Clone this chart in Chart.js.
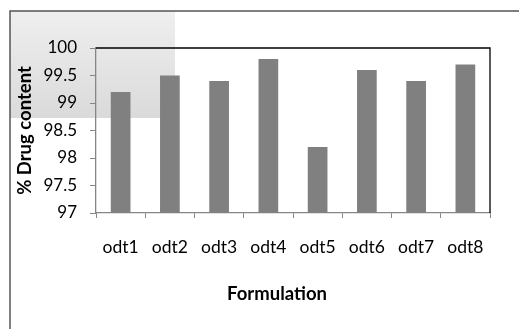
<!DOCTYPE html>
<html>
<head>
<meta charset="utf-8">
<script src="https://cdn.jsdelivr.net/npm/chart.js@4"></script>
<style>
  html, body { margin: 0; padding: 0; background: #ffffff; }
  #wrap { width: 519px; height: 329px; position: relative; }
</style>
</head>
<body>
<div id="wrap"><canvas id="c" width="519" height="329"></canvas></div>
<script>
const categories = ["odt1", "odt2", "odt3", "odt4", "odt5", "odt6", "odt7", "odt8"];
const drugContent = [99.2, 99.5, 99.4, 99.8, 98.2, 99.6, 99.4, 99.7];
const yMin = 97;
const yMax = 100;
const yStep = 0.5;
const xTitle = "Formulation";
const yTitle = "% Drug content";

const FONT = "Lato, 'Open Sans', sans-serif";

const decorPlugin = {
  id: 'decor',
  beforeDraw(chart) {
    const ctx = chart.ctx;
    ctx.save();
    const g = ctx.createLinearGradient(0, 11, 0, 118);
    g.addColorStop(0, '#efefef');
    g.addColorStop(1, '#dadada');
    ctx.fillStyle = g;
    ctx.fillRect(10, 11, 165, 107);
    ctx.restore();
  },
  afterDraw(chart) {
    const ctx = chart.ctx;
    const a = chart.chartArea;
    ctx.save();
    ctx.strokeStyle = '#000000';
    ctx.lineWidth = 1.3;
    ctx.beginPath();
    ctx.moveTo(a.left, a.top);
    ctx.lineTo(a.right, a.top);
    ctx.lineTo(a.right, a.bottom);
    ctx.stroke();
    ctx.strokeStyle = '#555555';
    ctx.lineWidth = 1.5;
    ctx.beginPath();
    ctx.moveTo(519, 11);
    ctx.lineTo(10, 11);
    ctx.lineTo(10, 329);
    ctx.stroke();
    ctx.fillStyle = '#000000';
    ctx.font = "bold 18.5px " + FONT;
    ctx.textAlign = 'center';
    ctx.textBaseline = 'middle';
    ctx.fillText(xTitle, 277, 294);
    ctx.restore();
  }
};

new Chart(document.getElementById('c'), {
  type: 'bar',
  data: {
    labels: categories,
    datasets: [{
      data: drugContent,
      backgroundColor: '#808080',
      borderWidth: 0,
      barPercentage: 0.4,
      categoryPercentage: 1.0
    }]
  },
  options: {
    responsive: false,
    animation: false,
    devicePixelRatio: 1,
    layout: { padding: { left: 10, right: 29, top: 48, bottom: 0 } },
    plugins: {
      legend: { display: false },
      tooltip: { enabled: false },
      title: { display: false }
    },
    scales: {
      x: {
        afterFit(scale) { scale.height = 116; },
        grid: {
          display: true,
          drawOnChartArea: false,
          drawTicks: true,
          tickLength: 5,
          color: '#868686',
          offset: true
        },
        border: { display: true, color: '#868686', width: 1.3 },
        ticks: {
          color: '#000000',
          font: { family: FONT, size: 17.5 },
          padding: 19,
          maxRotation: 0,
          autoSkip: false
        }
      },
      y: {
        min: yMin,
        max: yMax,
        afterFit(scale) { scale.width = 86; },
        grid: {
          display: true,
          drawOnChartArea: false,
          drawTicks: true,
          tickLength: 6,
          color: '#868686'
        },
        border: { display: true, color: '#868686', width: 1.3 },
        ticks: {
          stepSize: yStep,
          color: '#000000',
          font: { family: FONT, size: 17 },
          padding: 13,
          callback: (v) => String(Math.round(v * 10) / 10)
        },
        title: {
          display: true,
          text: yTitle,
          color: '#000000',
          font: { family: FONT, size: 18.5, weight: 'bold' },
          padding: { top: 4, bottom: 0 }
        }
      }
    }
  },
  plugins: [decorPlugin]
});
</script>
</body>
</html>
